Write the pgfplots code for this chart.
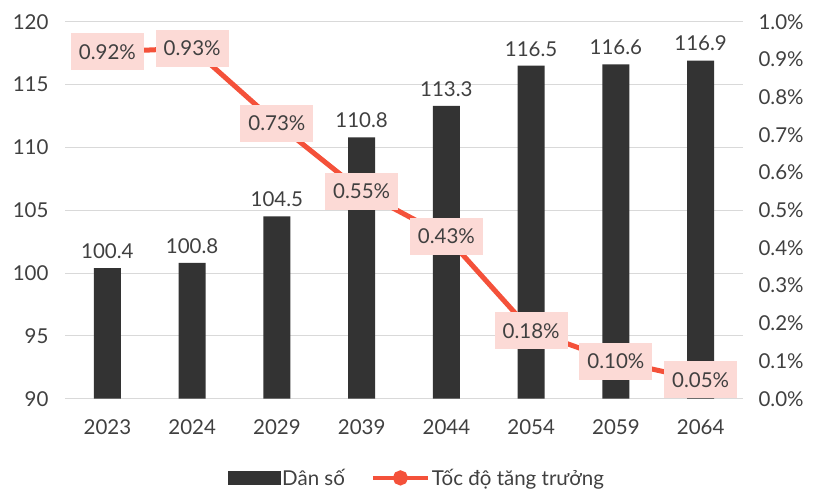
\documentclass[border=0pt]{standalone}
\usepackage{pgfplots}
\pgfplotsset{compat=1.18}
\usepackage{fontspec}
\setmainfont{Lato}
\definecolor{barcol}{HTML}{333333}
\definecolor{linecol}{HTML}{F4513A}
\definecolor{boxcol}{HTML}{FCDAD6}
\definecolor{txtcol}{HTML}{404040}
\definecolor{gridcol}{HTML}{D9D9D9}
\begin{document}
\begin{tikzpicture}
\pgfplotsset{
  every axis/.append style={
    scale only axis, width=678pt, height=377pt,
    xmin=-0.5, xmax=7.5,
    font=\fontsize{20.5}{24}\selectfont\color{txtcol},
    /pgf/number format/assume math mode=true,
    axis line style={draw=none},
    tick style={draw=none},
  }
}
\begin{axis}[
  ymin=90, ymax=120,
  ytick={90,95,100,105,110,115,120},
  ymajorgrids, grid style={gridcol, line width=1pt},
  xtick={0,1,2,3,4,5,6,7},
  xticklabels={2023,2024,2029,2039,2044,2054,2059,2064},
  x tick label style={yshift=-13pt},
  y tick label style={xshift=-13pt},
  ybar, bar width=27pt,
  nodes near coords,
  every node near coord/.append style={yshift=6pt, text=txtcol,
     /pgf/number format/.cd, fixed, fixed zerofill, precision=1},
  clip=false,
]
\addplot[fill=barcol, draw=none] coordinates {
 (0,100.4) (1,100.8) (2,104.5) (3,110.8) (4,113.3) (5,116.5) (6,116.6) (7,116.9)};
\coordinate (bbl) at (rel axis cs:-0.0959,-0.244);
\coordinate (btr) at (rel axis cs:1.1106,1.0576);
\end{axis}
\begin{axis}[
  ymin=0, ymax=1,
  axis y line*=right,
  axis x line=none,
  xtick=\empty,
  ytick={0,0.1,0.2,0.3,0.4,0.5,0.6,0.7,0.8,0.9,1.0},
  yticklabel={\pgfmathprintnumber[fixed,fixed zerofill,precision=1]{\tick}\%},
  y tick label style={xshift=12pt},
  clip=false,
  legend style={draw=none, fill=none, at={(rel axis cs:0.519,-0.21)}, anchor=center,
     legend columns=2, /tikz/every even column/.append style={column sep=24pt},
     font=\fontsize{20.5}{24}\selectfont\color{txtcol},
     nodes={inner sep=2pt}},
]
\addlegendimage{legend image code/.code={\fill[barcol] (0pt,-6.5pt) rectangle (52pt,6.5pt);}}
\addlegendentry{Dân số}
\addplot[linecol, line width=5pt, mark=none,
  legend image code/.code={\draw[linecol, line width=4pt] (0pt,0pt) -- (55pt,0pt); \fill[linecol] (27.5pt,0pt) circle (5pt);},
  point meta=y,
  nodes near coords={\pgfmathprintnumber[fixed,fixed zerofill,precision=2]{\pgfplotspointmeta}\%},
  every node near coord/.append style={anchor=center, fill=boxcol, text=txtcol,
     inner xsep=8pt, minimum height=37pt},
] coordinates {
 (0,0.92) (1,0.93) (2,0.73) (3,0.55) (4,0.43) (5,0.18) (6,0.10) (7,0.05)};
\addlegendentry{Tốc độ tăng trưởng}
\end{axis}
\pgfresetboundingbox
\path[use as bounding box] (bbl) rectangle (btr);
\end{tikzpicture}
\end{document}
